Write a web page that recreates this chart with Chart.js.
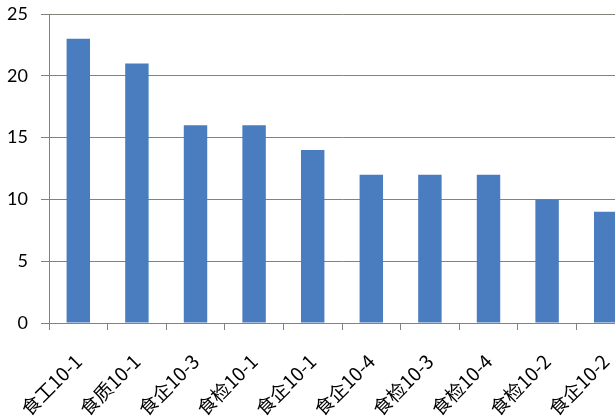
<!DOCTYPE html>
<html><head><meta charset="utf-8">
<script src="https://cdn.jsdelivr.net/npm/chart.js@4"></script>
<style>html,body{margin:0;padding:0;overflow:hidden;background:#fff;width:615px;height:420px}</style>
</head><body>
<canvas id="c" width="640" height="420"></canvas>
<script>
const categories = ['食工10-1','食质10-1','食企10-3','食检10-1','食企10-1','食企10-4','食检10-3','食检10-4','食检10-2','食企10-2'];
const values = [23, 21, 16, 16, 14, 12, 12, 12, 10, 9];
const yTicks = [0, 5, 10, 15, 20, 25];

const gridColor = '#808578';
new Chart(document.getElementById('c'), {
  type: 'bar',
  data: { labels: categories, datasets: [{ data: values, backgroundColor: '#4a7dbf', categoryPercentage: 1, barPercentage: 0.4 }] },
  options: {
    responsive: false, animation: false,
    layout: { padding: { top: 14, right: 5, left: 0, bottom: 0 } },
    plugins: { legend: { display: false }, tooltip: { enabled: false } },
    scales: {
      x: {
        grid: { drawOnChartArea: false, drawTicks: true, tickLength: 7, color: gridColor, offset: true },
        border: { color: gridColor },
        ticks: { color: '#000', minRotation: 45, maxRotation: 45, padding: 20, font: { family: '"Noto Sans CJK SC"', size: 19 } },
        afterFit: s => { s.height = 97; s.paddingLeft = 0; s.paddingRight = 0; }
      },
      y: {
        min: 0, max: 25,
        afterBuildTicks: s => { s.ticks = yTicks.map(v => ({ value: v })); },
        grid: { color: gridColor, tickLength: 8 },
        border: { color: gridColor },
        ticks: { color: '#000', padding: 13, font: { family: 'Lato', size: 18 } },
        afterFit: s => { s.width = 49; s.paddingTop = 0; s.paddingBottom = 0; }
      }
    }
  }
});
</script>
</body></html>
